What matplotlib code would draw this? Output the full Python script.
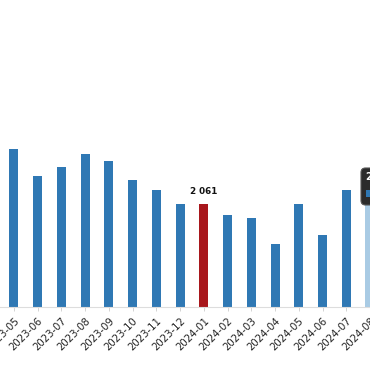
import numpy as np
import matplotlib.pyplot as plt
from matplotlib.patches import FancyBboxPatch, Rectangle

months = ["2023-05", "2023-06", "2023-07", "2023-08", "2023-09", "2023-10",
          "2023-11", "2023-12", "2024-01", "2024-02", "2024-03", "2024-04",
          "2024-05", "2024-06", "2024-07", "2024-08"]
values = [3160, 2620, 2800, 3060, 2920, 2540, 2340, 2060, 2061, 1840,
          1780, 1260, 2060, 1440, 2340, 2200]
highlight = "2024-01"
hovered = "2024-08"

blue = "#2f78b4"
red = "#a8171c"
light = "#a9cbe4"

colors = []
for m in months:
    if m == highlight:
        colors.append(red)
    elif m == hovered:
        colors.append(light)
    else:
        colors.append(blue)

fig = plt.figure(figsize=(3.7, 3.8), dpi=100)
ax = fig.add_axes([0, 73 / 380, 1, 307 / 380])

x = np.arange(len(months))
ax.bar(x, values, width=0.38, color=colors, zorder=2)

ax.set_xlim(-14 / 24, -14 / 24 + 370 / 24)
ax.set_ylim(0, 6140)
ax.set_xticks(x)
ax.set_xticklabels(months, rotation=45, ha="right", rotation_mode="anchor",
                   fontsize=7.3, color="#222222")
ax.tick_params(axis="x", length=3, width=0.6, color="#cccccc", pad=3)
ax.set_yticks([])
for s in ["top", "left", "right"]:
    ax.spines[s].set_visible(False)
ax.spines["bottom"].set_color("#dddddd")
ax.spines["bottom"].set_linewidth(0.8)

i = months.index(highlight)
ax.text(i, values[i] + 150, "2 061", ha="center", va="bottom",
        fontsize=6.3, fontweight="bold", color="#111111")

# tooltip cut by the right edge
tip = FancyBboxPatch((361 / 370, (380 - 205) / 380), 30 / 370, 37 / 380,
                     boxstyle="round,pad=0,rounding_size=0.012",
                     transform=fig.transFigure, facecolor="#2b2b2b",
                     edgecolor="#555555", linewidth=0.8, zorder=5)
fig.patches.append(tip)
fig.text(365 / 370, (380 - 177) / 380, "2", fontsize=7, fontweight="bold",
         color="white", va="center", ha="left", zorder=6)
fig.patches.append(Rectangle((366 / 370, (380 - 197) / 380), 6 / 370, 7 / 380,
                             transform=fig.transFigure, facecolor=blue,
                             zorder=6))

fig.savefig("out.png", dpi=100)
